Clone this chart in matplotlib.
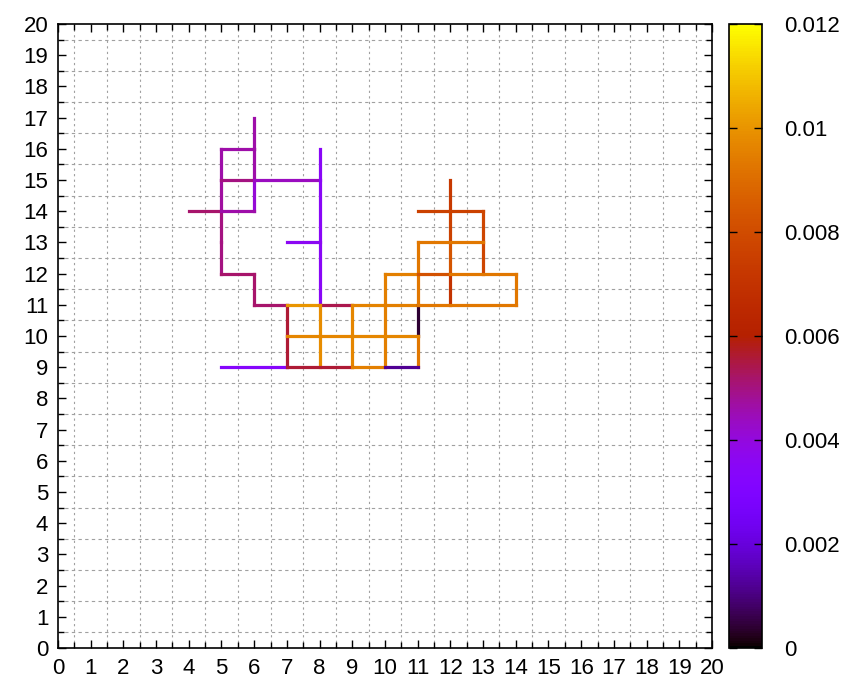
import numpy as np
import matplotlib
matplotlib.use('Agg')
import matplotlib.pyplot as plt
from matplotlib.collections import LineCollection
from matplotlib.ticker import MultipleLocator

# unit segments of the path: start, end, value
x0 = [6, 6, 6, 5, 5, 5, 5, 5, 5, 6, 4, 5, 8, 7, 5, 6, 6,
      7, 7, 7, 8, 9, 10, 8, 8, 9, 9, 10, 10, 10, 11, 11, 7, 5, 7, 9, 10,
      12, 12, 12, 12, 11, 13, 13, 11, 11, 11, 10, 11, 12, 14, 11]
y0 = [17, 16, 15, 16, 16, 15, 14, 13, 15, 15, 14, 14, 16, 13, 12, 12, 11,
      11, 10, 11, 11, 11, 11, 11, 10, 11, 10, 12, 11, 10, 11, 10, 10, 9, 9, 9, 9,
      15, 14, 13, 12, 14, 14, 13, 13, 13, 12, 12, 12, 12, 12, 11]
x1 = [6, 6, 6, 6, 5, 5, 5, 5, 6, 8, 5, 6, 8, 8, 6, 6, 7,
      7, 7, 8, 9, 10, 11, 8, 8, 9, 9, 10, 10, 10, 11, 11, 11, 7, 9, 10, 11,
      12, 12, 12, 12, 13, 13, 13, 13, 11, 11, 11, 12, 14, 14, 14]
y1 = [16, 15, 14, 16, 15, 14, 13, 12, 15, 15, 14, 14, 11, 13, 12, 11, 11,
      10, 9, 11, 11, 11, 11, 10, 9, 10, 9, 11, 10, 9, 10, 9, 10, 9, 9, 9, 9,
      14, 13, 12, 11, 14, 13, 12, 13, 12, 11, 12, 12, 12, 11, 11]
val = [0.0046, 0.0046, 0.0041, 0.0046, 0.0046, 0.0047, 0.0050, 0.0050, 0.0050, 0.0044,
       0.0052, 0.0046, 0.0035, 0.0036, 0.0052, 0.0052, 0.0052,
       0.0056, 0.0056, 0.0100, 0.0054, 0.0096, 0.0095, 0.0098, 0.0098, 0.0097, 0.0097,
       0.0095, 0.0095, 0.0095, 0.0004, 0.0093, 0.0097, 0.0033, 0.0056, 0.0095, 0.0012,
       0.0073, 0.0076, 0.0083, 0.0070, 0.0076, 0.0078, 0.0078, 0.0093, 0.0093, 0.0093,
       0.0095, 0.0082, 0.0093, 0.0093, 0.0093]

cb_ticks = [0, 0.002, 0.004, 0.006, 0.008, 0.01, 0.012]
cb_labels = ['0', '0.002', '0.004', '0.006', '0.008', '0.01', '0.012']

plt.rcParams['font.family'] = ['Liberation Sans', 'DejaVu Sans']
plt.rcParams['font.size'] = 16

fig = plt.figure(figsize=(8.45, 6.87), dpi=100)
ax = fig.add_axes([58/845, 39/687, 654/845, 624/687])

segs = [[(a, b), (c, d)] for a, b, c, d in zip(x0, y0, x1, y1)]
norm = plt.Normalize(0, 0.012)
lc = LineCollection(segs, cmap='gnuplot', norm=norm, linewidths=2.3, capstyle='projecting', zorder=3)
lc.set_array(np.array(val))
ax.add_collection(lc)

ax.set_xlim(0, 20)
ax.set_ylim(0, 20)
ax.xaxis.set_major_locator(MultipleLocator(1))
ax.yaxis.set_major_locator(MultipleLocator(1))
ax.xaxis.set_minor_locator(MultipleLocator(0.5))
ax.yaxis.set_minor_locator(MultipleLocator(0.5))
ax.tick_params(which='both', direction='in', top=True, right=True, width=1.0, color='black')
ax.tick_params(which='major', length=6, pad=7)
ax.tick_params(which='minor', length=4)
ax.yaxis.grid(True, which='minor', color='#a0a0a0', linestyle=(0, (3, 3)), linewidth=0.8)
ax.xaxis.grid(True, which='minor', color='#a0a0a0', linestyle=(0, (2, 3)), linewidth=0.8)
for sp in ax.spines.values():
    sp.set_linewidth(1.2)

cax = fig.add_axes([729/845, 39/687, 33/845, 624/687])
cb = fig.colorbar(lc, cax=cax, ticks=cb_ticks)
cb.set_ticklabels(cb_labels)
cb.outline.set_linewidth(1.2)
cax.tick_params(direction='in', length=6, left=True, right=True, pad=16, width=1.0)

fig.savefig('out.png', dpi=100)
